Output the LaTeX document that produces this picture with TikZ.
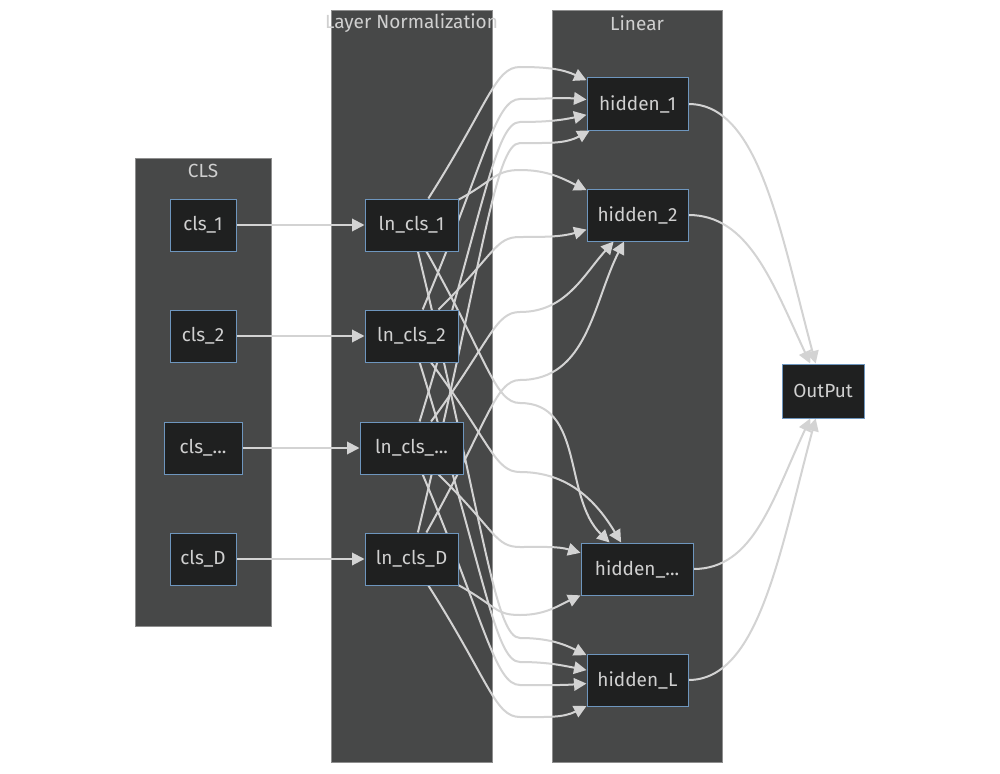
\documentclass[tikz,border=0pt]{standalone}
\usepackage{fontspec}
\setmainfont{Fira Sans}
\usetikzlibrary{arrows.meta}
\definecolor{clusterbg}{HTML}{474848}
\definecolor{clusterline}{HTML}{8E8E8E}
\definecolor{nodebg}{HTML}{1F2020}
\definecolor{nodeline}{HTML}{6E96BE}
\definecolor{txtc}{HTML}{D0D0D0}
\definecolor{edgec}{HTML}{D3D3D3}
\pgfdeclarelayer{clusterlayer}
\pgfdeclarelayer{edgelayer}
\pgfsetlayers{clusterlayer,edgelayer,main}
\begin{document}
\begin{tikzpicture}[x=1pt,y=1pt,
  box/.style={draw=nodeline, line width=1pt, fill=nodebg, text=txtc,
    font=\fontsize{19}{22}\selectfont, minimum height=52pt, inner sep=0pt},
  cluster/.style={draw=clusterline, line width=0.8pt, fill=clusterbg},
  ctitle/.style={text=txtc, font=\fontsize{19}{22}\selectfont, inner sep=0pt},
  edge/.style={draw=edgec, line width=2pt, -{Triangle[length=12.5pt,width=12.5pt]}},
]
\begin{pgfonlayer}{clusterlayer}
\useasboundingbox[fill=white] (0,0) rectangle (1000,-773);
\draw[cluster] (135,-158) rectangle (271,-626);
\draw[cluster] (331,-10) rectangle (492,-762);
\draw[cluster] (552,-10) rectangle (722,-762);
\end{pgfonlayer}
\node[ctitle] (tcls) at (203,-171) {CLS};
\node[ctitle] (tln) at (411.5,-23) {Layer Normalization};
\node[ctitle] (tlin) at (637,-23) {Linear};
% nodes
\node[box, minimum width=66pt] (c1) at (203,-225) {cls\_1};
\node[box, minimum width=66pt] (c2) at (203,-336) {cls\_2};
\node[box, minimum width=78pt] (c3) at (203,-448) {cls\_...};
\node[box, minimum width=66pt] (c4) at (203,-559) {cls\_D};
\node[box, minimum width=93pt] (l1) at (411.5,-225) {ln\_cls\_1};
\node[box, minimum width=93pt] (l2) at (411.5,-336) {ln\_cls\_2};
\node[box, minimum width=103pt] (l3) at (411.5,-448) {ln\_cls\_...};
\node[box, minimum width=93pt] (l4) at (411.5,-559) {ln\_cls\_D};
\node[box, minimum width=101pt] (h1) at (637.5,-104) {hidden\_1};
\node[box, minimum width=101pt] (h2) at (637.5,-215) {hidden\_2};
\node[box, minimum width=112pt] (h3) at (637,-569) {hidden\_...};
\node[box, minimum width=101pt] (h4) at (637.5,-680) {hidden\_L};
\node[box, minimum width=82pt, minimum height=54pt] (o) at (823,-391) {OutPut};
% waypoints
\foreach \n/\y in {11/67,12/170,13/403,14/638,
                   21/99,22/237,23/472,24/662,
                   31/122,32/312,33/547,34/685,
                   41/143,42/380,43/615,44/717}
  {\coordinate (w\n) at (520,-\y);}
\begin{pgfonlayer}{edgelayer}
% cls -> ln
\draw[edge] (c1) -- (l1);
\draw[edge] (c2) -- (l2);
\draw[edge] (c3) -- (l3);
\draw[edge] (c4) -- (l4);
% ln -> hidden
\foreach \i/\j/\a/\d/\b in {
  1/1/57.7/113/155, 1/2/28.8/40/154, 1/3/-60.7/125/136, 1/4/-76.4/280/154,
  2/1/67.1/160/175, 2/2/44.7/80/196, 2/3/-53.7/100/121, 2/4/-72.9/220/169,
  3/1/73/220/192,   3/2/53.7/100/228, 3/3/-44.7/80/164, 3/4/-67.1/160/184,
  4/1/76.5/280/209, 4/2/60.8/125/243, 4/3/-29.2/45/205, 4/4/-57.7/113/207}
  {\draw[edge] (l\i) to[out=\a,in=180,out distance=\d pt,in distance=25pt] (w\i\j)
     to[out=0,in=\b] (h\j);}
% hidden -> output
\draw[edge] (h1) to[out=0,in=105,out distance=70pt,in distance=140pt] (o);
\draw[edge] (h2) to[out=0,in=115,out distance=60pt,in distance=90pt] (o);
\draw[edge] (h3) to[out=0,in=245,out distance=60pt,in distance=90pt] (o);
\draw[edge] (h4) to[out=0,in=255,out distance=70pt,in distance=140pt] (o);
\end{pgfonlayer}
\end{tikzpicture}
\end{document}
